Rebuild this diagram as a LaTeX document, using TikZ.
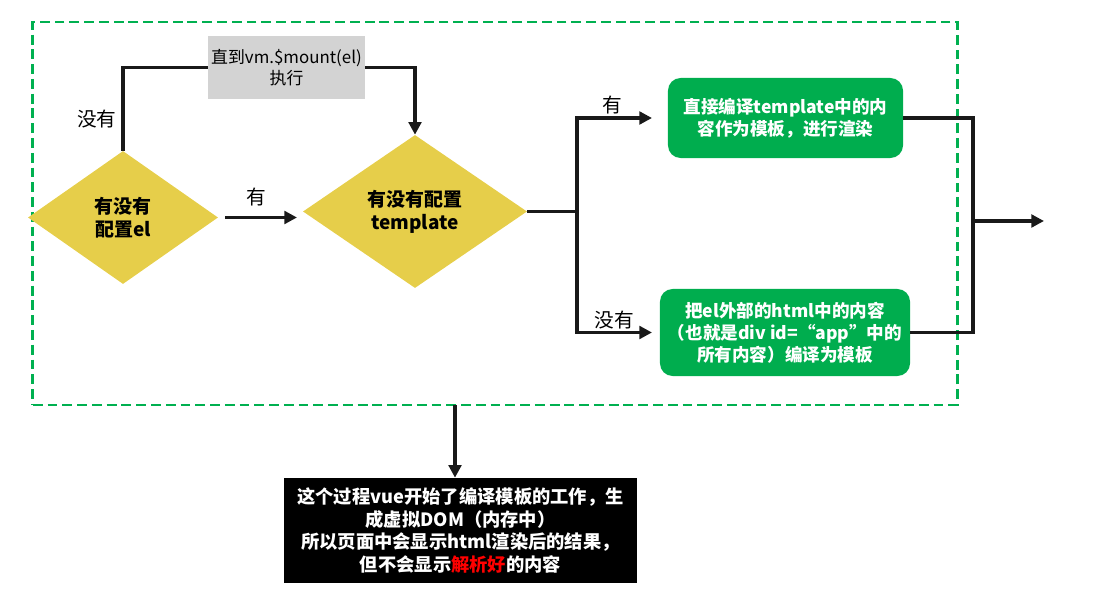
\documentclass[tikz,border=0pt]{standalone}
\usepackage{fontspec}
\setmainfont{Noto Sans CJK SC}
\usetikzlibrary{shapes.geometric,arrows.meta}

\definecolor{framegreen}{RGB}{0,176,80}
\definecolor{boxgreen}{RGB}{0,173,78}
\definecolor{askyellow}{RGB}{230,206,74}
\definecolor{waitgray}{RGB}{211,211,211}
\definecolor{linegray}{RGB}{25,25,25}

\begin{document}
\begin{tikzpicture}[
x=0.025cm, y=-0.025cm,
question/.style={diamond, fill=askyellow, aspect=1.4, inner sep=0pt, align=center,
  font=\fontsize{13.5}{16.5}\selectfont\bfseries},
result/.style={rectangle, rounded corners=9pt, fill=boxgreen, text=white, align=center,
  font=\fontsize{12.5}{15.5}\selectfont\bfseries},
branchtext/.style={font=\fontsize{14}{16}\selectfont},
flow/.style={draw=linegray, line width=2.4pt},
arr/.style={flow, -{Triangle[length=9pt,width=9pt]}}
]
\useasboundingbox (0,0) rectangle (1094,609);

% frame
\node[draw=framegreen, line width=2pt, dash pattern=on 7pt off 3.5pt,
  minimum width=23.1cm, minimum height=9.575cm] (frame) at (495,213.5) {};

% nodes
\node[question, minimum width=4.75cm, minimum height=3.325cm] (hasel) at (123,217.5) {有没有\\配置el};
\node[question, minimum width=5.6cm, minimum height=3.825cm] (hastpl) at (415,211.5) {有没有配置\\template};
\node[fill=waitgray, align=center, inner sep=1pt, minimum width=3.925cm, minimum height=1.575cm,
  font=\fontsize{12}{14.5}\selectfont] (mount) at (286.5,67.5) {直到vm.\$mount(el)\\执行};
\node[result, minimum width=5.875cm, minimum height=2cm] (direct) at (785.5,118) {直接编译template中的内\\容作为模板，进行渲染};
\node[result, minimum width=6.25cm, minimum height=2.175cm] (outer) at (785,332.5) {把el外部的html中的内容\\（也就是div id=“app”中的\\所有内容）编译为模板};
\node[fill=black, text=white, align=center, minimum width=8.825cm, minimum height=2.625cm,
  font=\fontsize{13}{16.3}\selectfont\bfseries] (summary) at (460.5,530.5)
  {这个过程vue开始了编译模板的工作，生\\成虚拟DOM（内存中）\\所以页面中会显示html渲染后的结果，\\但不会显示\textcolor{red}{解析好}的内容};

% junctions
\coordinate (elout) at (225,217.5);
\coordinate (tplin) at (297,217.5);
\coordinate (split) at (577,211.5);
\coordinate (yesend) at (652,118);
\coordinate (noend) at (652,332.5);
\coordinate (merge) at (973,221);
\coordinate (out) at (1044,221);
\coordinate (down) at (455,405);

% edges
\draw[flow] (hasel.north) |- (mount.west);
\draw[arr] (mount.east) -| (hastpl.north);
\draw[arr] (elout) -- (tplin);
\draw[flow] (hastpl.east) -- (split);
\draw[arr] (split) |- (yesend);
\draw[arr] (split) |- (noend);
\draw[flow] (direct.east) -| (merge);
\draw[flow] (outer.east) -| (merge);
\draw[arr] (merge) -- (out);
\draw[arr] (down) -- (down |- summary.north);

% labels
\node[branchtext] (noel) at (97,119) {没有};
\node[branchtext] (yesel) at (256,197) {有};
\node[branchtext] (yestpl) at (612,105) {有};
\node[branchtext] (notpl) at (614,320) {没有};

\end{tikzpicture}
\end{document}
